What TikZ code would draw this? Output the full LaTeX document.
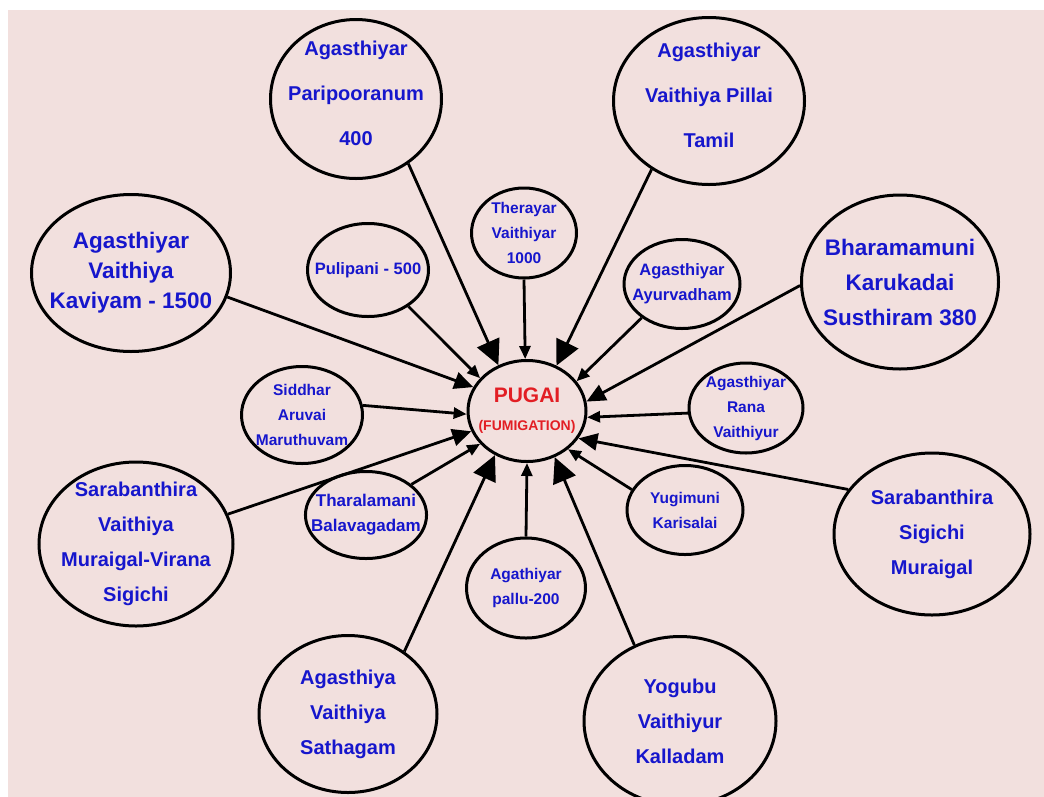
\documentclass[tikz,border=0pt]{standalone}
\usepackage{fontspec}
\setmainfont{Liberation Sans}
\usetikzlibrary{arrows.meta,shapes.geometric}

\definecolor{pinkbg}{RGB}{242,224,222}
\definecolor{bookblue}{RGB}{22,22,204}
\definecolor{pugaired}{RGB}{226,30,36}

\begin{document}
\begin{tikzpicture}[x=1pt, y=-1pt,
  book/.style={ellipse, draw=black, line width=3pt, inner sep=-12pt, align=center,
    text=bookblue, font=\bfseries\fontsize{20}{35}\selectfont},
  smallbook/.style={book, font=\bfseries\fontsize{15.5}{25}\selectfont},
  bigarrow/.style={line width=2.8pt, -{Triangle[length=25pt, width=24pt]}},
  midarrow/.style={line width=2.8pt, -{Triangle[length=19pt, width=17pt]}},
  smallarrow/.style={line width=2.8pt, -{Triangle[length=13pt, width=11pt]}}]

\useasboundingbox (0,0) rectangle (1044,796);
\fill[white] (-5,-5) rectangle (1050,802);
\fill[pinkbg] (8,10) rectangle (1050,802);

% Pugai: the centre
\node[book, text=pugaired, minimum width=118pt, minimum height=101pt,
  font=\bfseries\fontsize{21}{28}\selectfont] (pugai) at (527,411)
  {PUGAI\\{\fontsize{14}{28}\selectfont(FUMIGATION)}};

% Agasthiyar Paripooranum 400
\node[book, minimum width=171pt, minimum height=159pt, text depth=12pt,
  font=\bfseries\fontsize{20}{45}\selectfont] (pari) at (356,99)
  {Agasthiyar\\Paripooranum\\400};
\draw[bigarrow] (pari.-51) -- (pugai.122);

% Agasthiyar Vaithiya Pillai Tamil
\node[book, minimum width=191pt, minimum height=167pt, text depth=12pt,
  font=\bfseries\fontsize{20}{45}\selectfont] (pill) at (709,101)
  {Agasthiyar\\Vaithiya Pillai\\Tamil};
\draw[bigarrow] (pill.-130) -- (pugai.57);

% Agasthiyar Vaithiya Kaviyam - 1500
\node[book, minimum width=199pt, minimum height=157pt,
  font=\bfseries\fontsize{22.5}{30}\selectfont] (kavi) at (131,273)
  {Agasthiyar\\Vaithiya\\Kaviyam - 1500};
\draw[midarrow] (kavi.-14) -- (pugai.156);

% Bharamamuni Karukadai Susthiram 380
\node[book, minimum width=197pt, minimum height=174pt,
  font=\bfseries\fontsize{22.5}{35}\selectfont] (bhar) at (900,282)
  {Bharamamuni\\Karukadai\\Susthiram 380};
\draw[midarrow] (bhar.-178) -- (pugai.9);

% Sarabanthira Vaithiya Muraigal-Virana Sigichi
\node[book, minimum width=194pt, minimum height=164pt] (sarv) at (136,544)
  {Sarabanthira\\Vaithiya\\Muraigal-Virana\\Sigichi};
\draw[midarrow] (sarv.18) -- (pugai.-160);

% Sarabanthira Sigichi Muraigal
\node[book, minimum width=196pt, minimum height=162pt] (sars) at (932,534)
  {Sarabanthira\\Sigichi\\Muraigal};
\draw[midarrow] (sars.152) -- (pugai.-28);

% Agasthiya Vaithiya Sathagam
\node[book, minimum width=178pt, minimum height=157pt] (sath) at (348,714)
  {Agasthiya\\Vaithiya\\Sathagam};
\draw[bigarrow] (sath.48) -- (pugai.-126);

% Yogubu Vaithiyur Kalladam
\node[book, minimum width=192pt, minimum height=169pt] (yogu) at (680,721)
  {Yogubu\\Vaithiyur\\Kalladam};
\draw[bigarrow] (yogu.121) -- (pugai.-59);

% Pulipani - 500
\node[smallbook, minimum width=121pt, minimum height=93pt,
  font=\bfseries\fontsize{16.5}{25}\selectfont] (puli) at (368,270)
  {Pulipani - 500};
\draw[smallarrow] (puli.-42) -- (pugai.145);

% Therayar Vaithiyar 1000
\node[smallbook, minimum width=105pt, minimum height=90pt] (ther) at (524,233)
  {Therayar\\Vaithiyar\\1000};
\draw[smallarrow] (ther.-90) -- (pugai.92);

% Agasthiyar Ayurvadham
\node[smallbook, minimum width=116pt, minimum height=89pt,
  font=\bfseries\fontsize{16.5}{25}\selectfont] (ayur) at (682,284)
  {Agasthiyar\\Ayurvadham};
\draw[smallarrow] (ayur.-140) -- (pugai.31);

% Siddhar Aruvai Maruthuvam
\node[smallbook, minimum width=121pt, minimum height=97pt] (sidd) at (302,415)
  {Siddhar\\Aruvai\\Maruthuvam};
\draw[smallarrow] (sidd.9) -- (pugai.183);

% Agasthiyar Rana Vaithiyur
\node[smallbook, minimum width=114pt, minimum height=90pt] (rana) at (746,408)
  {Agasthiyar\\Rana\\Vaithiyur};
\draw[smallarrow] (rana.-175) -- (pugai.-6);

% Tharalamani Balavagadam
\node[smallbook, minimum width=120pt, minimum height=87pt,
  font=\bfseries\fontsize{17}{25}\selectfont] (thar) at (366,515)
  {Tharalamani\\Balavagadam};
\draw[smallarrow] (thar.34) -- (pugai.-145);

% Yugimuni Karisalai
\node[smallbook, minimum width=116pt, minimum height=89pt] (yugi) at (685,510)
  {Yugimuni\\Karisalai};
\draw[smallarrow] (yugi.159) -- (pugai.-43);

% Agathiyar pallu-200
\node[smallbook, minimum width=119pt, minimum height=100pt] (pall) at (526,588)
  {Agathiyar\\pallu-200};
\draw[smallarrow] (pall.90) -- (pugai.-90);

\end{tikzpicture}
\end{document}
